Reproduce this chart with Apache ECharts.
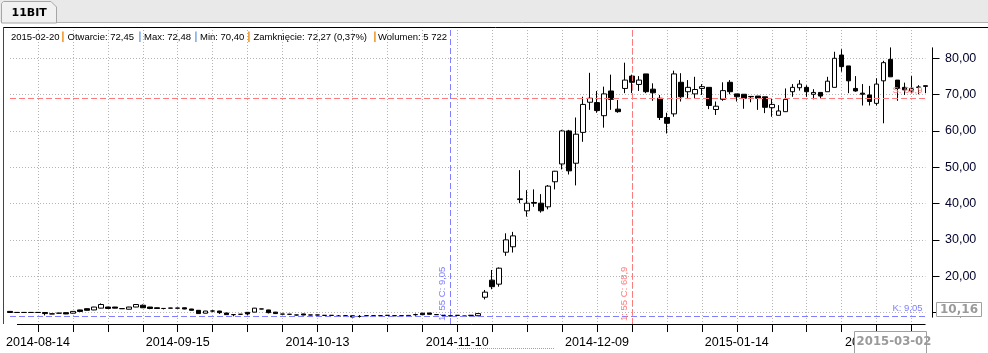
<!DOCTYPE html>
<html>
<head>
<meta charset="utf-8">
<script src="https://cdn.jsdelivr.net/npm/echarts@6/dist/echarts.min.js"></script>
<style>
    html, body {margin: 0; padding: 0; background: #fff;}
    #chart {width: 988px; height: 353px;}
</style>
</head>
<body>
<div id="chart"></div>
<script>
    // sesje 11BIT, 2014-08-08 .. 2015-02-20
    const dates = [
        '2014-08-08', '2014-08-11', '2014-08-12', '2014-08-13', '2014-08-14',
        '2014-08-19', '2014-08-20', '2014-08-21', '2014-08-22', '2014-08-25', '2014-08-26', '2014-08-27', '2014-08-28', '2014-08-29',
        '2014-09-01', '2014-09-02', '2014-09-03', '2014-09-04', '2014-09-05', '2014-09-08', '2014-09-09', '2014-09-10', '2014-09-11', '2014-09-12',
        '2014-09-15', '2014-09-16', '2014-09-17', '2014-09-18', '2014-09-19', '2014-09-22', '2014-09-23', '2014-09-24', '2014-09-25', '2014-09-26',
        '2014-09-29', '2014-09-30', '2014-10-01', '2014-10-02', '2014-10-03', '2014-10-06', '2014-10-07', '2014-10-08', '2014-10-09', '2014-10-10',
        '2014-10-13', '2014-10-14', '2014-10-15', '2014-10-16', '2014-10-17', '2014-10-20', '2014-10-21', '2014-10-22', '2014-10-23', '2014-10-24',
        '2014-10-27', '2014-10-28', '2014-10-29', '2014-10-30', '2014-10-31', '2014-11-03', '2014-11-04', '2014-11-05', '2014-11-06', '2014-11-07',
        '2014-11-10', '2014-11-12', '2014-11-13', '2014-11-14', '2014-11-17', '2014-11-18', '2014-11-19', '2014-11-20', '2014-11-21',
        '2014-11-24', '2014-11-25', '2014-11-26', '2014-11-27', '2014-11-28', '2014-12-01', '2014-12-02', '2014-12-03', '2014-12-04', '2014-12-05',
        '2014-12-08', '2014-12-09', '2014-12-10', '2014-12-11', '2014-12-12', '2014-12-15', '2014-12-16', '2014-12-17', '2014-12-18', '2014-12-19',
        '2014-12-22', '2014-12-23', '2014-12-29', '2014-12-30', '2015-01-02', '2015-01-05', '2015-01-07', '2015-01-08', '2015-01-09',
        '2015-01-12', '2015-01-13', '2015-01-14', '2015-01-15', '2015-01-16', '2015-01-19', '2015-01-20', '2015-01-21', '2015-01-22', '2015-01-23',
        '2015-01-26', '2015-01-27', '2015-01-28', '2015-01-29', '2015-01-30', '2015-02-02', '2015-02-03', '2015-02-04', '2015-02-05', '2015-02-06',
        '2015-02-09', '2015-02-10', '2015-02-11', '2015-02-12', '2015-02-13', '2015-02-16', '2015-02-17', '2015-02-18', '2015-02-19', '2015-02-20'
    ];
    const opens = [
        10.3, 10.02, 10.02, 10.02, 10.02, 10.0, 9.62, 9.82, 9.95, 9.8,
        10.7, 11.05, 10.7, 11.2, 11.5, 11.5, 11.07, 10.9, 11.5, 12.0,
        11.5, 11.3, 11.12, 11.22, 11.22, 11.3, 10.96, 10.6, 9.8, 10.42,
        10.4, 9.86, 9.42, 9.52, 10.04, 10.1, 10.98, 10.7, 10.1, 9.57,
        9.52, 9.32, 9.6, 9.32, 9.32, 9.22, 9.22, 9.02, 9.12, 9.1,
        8.92, 9.12, 9.12, 9.12, 9.22, 9.12, 9.12, 8.9, 9.42, 9.8,
        9.86, 9.42, 9.22, 9.1, 9.22, 9.02, 9.22, 9.1, 14.2, 18.9,
        17.8, 26.6, 28.1, 41.1, 38.0, 40.3, 40.1, 39.1, 46.0, 50.9,
        60.0, 51.1, 59.6, 67.9, 67.8, 64.2, 71.0, 66.0, 71.7, 75.1,
        72.8, 75.7, 71.5, 69.0, 63.7, 64.7, 73.4, 70.8, 70.2, 71.7,
        72.0, 65.9, 68.7, 73.4, 70.2, 70.1, 69.5, 69.6, 69.4, 66.4,
        64.3, 65.3, 70.8, 71.9, 72.0, 70.1, 70.6, 70.8, 72.0, 80.9,
        77.9, 71.7, 70.4, 69.9, 67.6, 73.8, 79.7, 74.0, 72.0, 71.0,
        72.1, 72.45
    ];
    const closes = [
        10.0, 10.0, 10.0, 10.0, 10.0, 9.7, 9.6, 9.8, 9.6, 10.3,
        10.3, 10.6, 11.5, 12.2, 11.1, 11.2, 11.05, 11.5, 12.2, 11.3,
        11.1, 11.1, 11.1, 11.2, 11.2, 10.96, 10.6, 9.7, 10.4, 10.4,
        9.95, 9.4, 9.4, 9.5, 9.6, 11.2, 10.96, 9.95, 9.7, 9.55,
        9.5, 9.3, 9.3, 9.3, 9.3, 9.2, 9.2, 9.0, 9.1, 8.75,
        8.9, 9.1, 9.1, 9.1, 9.2, 9.1, 9.1, 9.2, 9.4, 9.4,
        9.5, 9.4, 9.2, 9.05, 9.2, 9.0, 9.2, 9.7, 15.6, 17.1,
        22.2, 30.0, 31.1, 41.3, 40.1, 40.1, 38.0, 44.8, 48.9, 60.0,
        49.0, 59.1, 67.3, 69.0, 65.6, 70.2, 68.7, 65.3, 74.0, 73.4,
        74.0, 70.8, 70.5, 63.7, 62.1, 75.7, 69.4, 72.0, 71.4, 72.2,
        67.0, 66.8, 71.1, 70.8, 69.4, 69.0, 69.4, 69.0, 66.5, 67.3,
        65.5, 68.7, 72.0, 72.9, 70.8, 70.6, 69.6, 73.7, 80.0, 77.7,
        73.8, 71.0, 70.1, 68.1, 72.9, 78.8, 74.9, 71.7, 71.3, 71.7,
        72.0, 72.27
    ];
    const lows = [
        9.95, 9.97, 9.97, 9.97, 9.97, 9.2, 9.55, 9.75, 9.55, 9.75,
        10.25, 10.55, 10.65, 11.15, 11.05, 11.15, 11.0, 10.85, 11.45, 11.25,
        10.9, 11.05, 10.85, 11.15, 11.15, 10.9, 10.55, 9.65, 9.75, 10.15,
        9.6, 9.35, 8.95, 9.45, 9.25, 10.05, 10.9, 9.75, 9.65, 9.5,
        9.45, 9.2, 9.25, 9.25, 9.25, 9.15, 9.15, 8.85, 9.05, 8.7,
        8.6, 9.05, 9.05, 9.05, 9.15, 9.05, 9.05, 8.85, 9.1, 9.35,
        9.45, 9.35, 9.15, 9.0, 9.15, 8.95, 9.15, 9.0, 13.6, 16.4,
        17.1, 25.6, 26.5, 40.1, 36.4, 39.1, 37.5, 38.4, 43.9, 49.4,
        48.0, 45.0, 57.0, 65.8, 65.0, 60.9, 65.8, 65.0, 70.4, 70.4,
        71.0, 70.4, 68.3, 63.0, 59.3, 63.9, 68.1, 69.0, 69.0, 69.9,
        66.0, 64.4, 68.3, 70.1, 68.1, 66.1, 67.9, 65.8, 64.9, 63.9,
        64.3, 65.3, 69.4, 71.1, 69.4, 68.7, 69.0, 70.8, 72.0, 76.3,
        70.4, 70.8, 67.0, 67.0, 67.0, 62.1, 74.9, 68.3, 69.9, 70.4,
        70.1, 70.40
    ];
    const highs = [
        10.35, 10.05, 10.05, 10.05, 10.05, 10.05, 9.65, 9.85, 10.0, 10.35,
        10.75, 11.1, 11.55, 12.5, 11.55, 11.55, 11.1, 11.55, 12.25, 12.2,
        11.55, 11.35, 11.15, 11.25, 11.25, 11.35, 11.0, 10.65, 10.45, 10.6,
        10.45, 9.9, 9.45, 9.55, 10.1, 11.25, 11.0, 10.75, 10.15, 9.6,
        9.55, 9.35, 9.65, 9.35, 9.35, 9.25, 9.25, 9.3, 9.15, 9.15,
        9.3, 9.15, 9.15, 9.15, 9.25, 9.15, 9.15, 9.25, 9.7, 9.85,
        9.9, 9.45, 9.25, 9.15, 9.25, 9.05, 9.25, 9.8, 16.2, 21.7,
        22.4, 31.8, 32.2, 49.2, 43.7, 43.9, 42.6, 45.1, 49.0, 60.3,
        60.3, 63.7, 69.4, 76.0, 71.0, 72.2, 75.5, 68.5, 78.8, 75.5,
        75.1, 75.7, 73.1, 69.9, 65.0, 76.6, 75.9, 74.0, 74.9, 72.9,
        72.0, 68.1, 73.4, 74.0, 70.2, 70.1, 69.6, 69.6, 69.4, 69.0,
        67.1, 71.7, 72.9, 74.0, 72.6, 71.5, 70.6, 74.9, 81.8, 82.5,
        77.9, 75.1, 72.9, 72.4, 74.5, 79.3, 83.0, 74.0, 73.3, 75.1,
        72.6, 72.48
    ];
    const yTicks = [10, 20, 30, 40, 50, 60, 70, 80];
    const yMin = 6.83, yMax = 88.62;

    // linie kursora: indeks sesji i poziom
    const blueIdx = 63, blueVal = 9.05;
    const redIdx = 89, redVal = 68.9;
    const blueText = '1: 55 C: 9,05', blueLevel = 'K: 9,05';
    const redText = '1: 55 C: 68,9', redLevel = 'S: 68,9';
    const cursorPrice = '10,16', cursorDate = '2015-03-02';

    const headerParts = ['2015-02-20', 'Otwarcie: 72,45', 'Max: 72,48', 'Min: 70,40', 'Zamknięcie: 72,27 (0,37%)', 'Wolumen: 5 722'];
    const headerX = [11, 67.5, 144, 200, 253.5, 378];
    const sepX = [62, 139, 195, 248, 374];

    const BLUE = '#7f7fff', RED = '#ff7b7b', GRID = '#b4b4b4';
    const FONT = 'Liberation Sans, Arial, sans-serif';

    const chart = echarts.init(document.getElementById('chart'));
    const ohlc = dates.map((d, i) => [opens[i], closes[i], lows[i], highs[i]]);
    const fmt = v => v.toFixed(2).replace('.', ',');

    chart.setOption({
        animation: false,
        backgroundColor: '#fff',
        grid: {left: 10, right: 62.5, top: 27, bottom: 29},
        xAxis: {
            type: 'category',
            data: dates,
            boundaryGap: false,
            axisLine: {show: false},
            axisTick: {show: true, length: 8, interval: i => i % 5 === 4, lineStyle: {color: '#000'}},
            axisLabel: {
                interval: i => i % 20 === 4,
                margin: 12,
                color: '#000',
                fontSize: 12.5,
                fontFamily: FONT
            },
            splitLine: {show: true, interval: i => i % 5 === 4, lineStyle: {color: GRID, type: [1, 2]}}
        },
        yAxis: {
            type: 'value',
            position: 'right',
            offset: 7,
            min: yMin,
            max: yMax,
            axisLine: {show: false},
            axisTick: {show: true, length: 7, customValues: yTicks, lineStyle: {color: '#000'}},
            axisLabel: {
                customValues: yTicks,
                formatter: fmt,
                margin: 12.5,
                color: '#00002a',
                fontSize: 12.5,
                fontFamily: FONT
            },
            splitLine: {show: true, lineStyle: {color: GRID, type: [1, 2]}}
        },
        series: [{
            type: 'candlestick',
            data: ohlc,
            barWidth: 5,
            itemStyle: {color: '#fff', color0: '#000', borderColor: '#000', borderColor0: '#000', borderWidth: 1},
            markLine: {
                symbol: 'none',
                silent: true,
                animation: false,
                label: {fontSize: 9.5, fontFamily: FONT, distance: 3},
                data: [
                    {xAxis: dates[blueIdx], lineStyle: {color: BLUE, type: [6, 3], width: 1},
                        label: {formatter: blueText, color: BLUE, position: 'insideStartTop'}},
                    {yAxis: blueVal, lineStyle: {color: BLUE, type: [6, 3], width: 1},
                        label: {formatter: blueLevel, color: BLUE, position: 'insideEndTop'}},
                    {xAxis: dates[redIdx], lineStyle: {color: RED, type: [6, 3], width: 1},
                        label: {formatter: redText, color: RED, position: 'insideStartTop'}},
                    {yAxis: redVal, lineStyle: {color: RED, type: [6, 3], width: 1},
                        label: {formatter: redLevel, color: RED, position: 'insideEndTop'}}
                ]
            }
        }]
    });

    // os Y tylko od min do max notowan, os X od drugiej sesji
    const yTop = chart.convertToPixel({yAxisIndex: 0}, Math.max(...highs));
    const yBot = chart.convertToPixel({yAxisIndex: 0}, Math.min(...lows));
    const xA = chart.convertToPixel({xAxisIndex: 0}, dates[1]);
    const xB = chart.convertToPixel({xAxisIndex: 0}, dates[dates.length - 1]);
    const axisRight = 932.5, axisBottom = 324;

    const graphic = [
        {type: 'rect', shape: {x: 0, y: 0, width: 988, height: 22}, style: {fill: '#e9e9e9'}, z: 50},
        {type: 'line', shape: {x1: 57, y1: 22.5, x2: 988, y2: 22.5}, style: {stroke: '#b2b2b2'}, z: 51},
        {type: 'polygon', shape: {points: [[1.5, 23], [1.5, 3.5], [3.5, 1.5], [51, 1.5], [56.5, 7], [56.5, 23]]},
            style: {fill: '#f1f1f1', stroke: '#a6a6a6'}, z: 51},
        {type: 'text', x: 11.5, y: 13, style: {text: '11BIT', font: 'bold 11px DejaVu Sans', fill: '#000', verticalAlign: 'middle'}, z: 52},
        {type: 'line', shape: {x1: 3, y1: 27.5, x2: 988, y2: 27.5}, style: {stroke: '#000'}, z: 50},
        {type: 'line', shape: {x1: 3.5, y1: 27, x2: 3.5, y2: axisBottom}, style: {stroke: '#444'}, z: 50},
        {type: 'line', shape: {x1: axisRight, y1: yTop, x2: axisRight, y2: yBot}, style: {stroke: '#000'}, z: 50},
        {type: 'line', shape: {x1: xA, y1: axisBottom + 0.5, x2: xB, y2: axisBottom + 0.5}, style: {stroke: '#000'}, z: 50},
        {type: 'line', shape: {x1: 457, y1: 348.5, x2: 555, y2: 348.5}, style: {stroke: RED, lineDash: [1, 1]}, z: 50},
        {type: 'rect', shape: {x: 936.5, y: 302.5, width: 45, height: 14}, style: {fill: '#fff', stroke: '#a0a0a0'}, z: 60},
        {type: 'text', x: 959, y: 310, style: {text: cursorPrice, font: 'bold 12px DejaVu Sans', fill: '#9a9a9a', align: 'center', verticalAlign: 'middle'}, z: 61},
        {type: 'rect', shape: {x: 854.5, y: 331.5, width: 72, height: 25}, style: {fill: '#fff', stroke: '#a0a0a0'}, z: 60},
        {type: 'text', x: 894, y: 342, style: {text: cursorDate, font: 'bold 11.7px DejaVu Sans', fill: '#9a9a9a', align: 'center', verticalAlign: 'middle'}, z: 61}
    ];
    headerParts.forEach((t, i) => {
        graphic.push({type: 'text', x: headerX[i], y: 37, z: 55,
            style: {text: t, font: '9.5px ' + FONT, fill: '#000', verticalAlign: 'middle'}});
    });
    sepX.forEach(x => {
        graphic.push({type: 'line', shape: {x1: x + 0.5, y1: 31.5, x2: x + 0.5, y2: 42}, style: {stroke: '#f2a444'}, z: 55});
        graphic.push({type: 'line', shape: {x1: x + 1.5, y1: 31.5, x2: x + 1.5, y2: 42}, style: {stroke: '#a8c4f0'}, z: 55});
    });
    chart.setOption({graphic: graphic});
</script>
</body>
</html>
